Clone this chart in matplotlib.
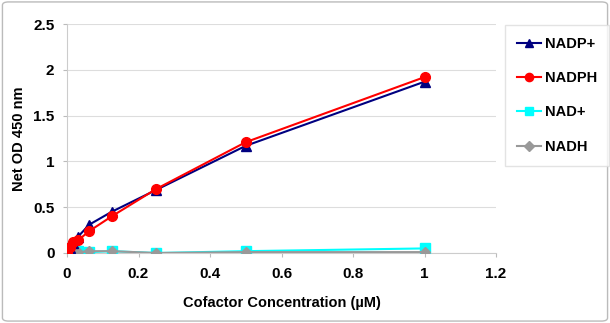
import numpy as np
import matplotlib.pyplot as plt
from matplotlib.patches import FancyBboxPatch

# cofactor concentration (uM), two-fold dilution series
conc = [0, 0.0078, 0.0156, 0.03125, 0.0625, 0.125, 0.25, 0.5, 1.0]

nadp_plus = [0.0, 0.06, 0.11, 0.18, 0.31, 0.45, 0.69, 1.17, 1.87]
nadph = [0.0, 0.07, 0.12, 0.14, 0.24, 0.40, 0.70, 1.21, 1.92]
nad_plus = [0.02, 0.02, 0.02, 0.02, 0.01, 0.02, 0.0, 0.02, 0.05]
nadh = [0.02, 0.02, 0.01, 0.01, 0.02, 0.02, 0.0, 0.01, 0.01]

xticks = [0, 0.2, 0.4, 0.6, 0.8, 1, 1.2]
xtick_labels = ['0', '0.2', '0.4', '0.6', '0.8', '1', '1.2']
yticks = [0, 0.5, 1, 1.5, 2, 2.5]
ytick_labels = ['0', '0.5', '1', '1.5', '2', '2.5']

plt.rcParams['font.family'] = ['Liberation Sans', 'DejaVu Sans']
plt.rcParams['font.weight'] = 'bold'

fig = plt.figure(figsize=(6.1, 3.23), dpi=100)
ax = fig.add_axes([67/610, 1 - 253/323, (496-67)/610, (253-24)/323])

ax.plot(conc, nadp_plus, color='#000080', marker='^', ms=7, lw=1.5, label='NADP+', zorder=4)
ax.plot(conc, nadph, color='#ff0000', marker='o', ms=7, lw=1.5, label='NADPH', zorder=5)
ax.plot(conc, nad_plus, color='#00ffff', marker='s', ms=6.5, lw=1.5, label='NAD+', zorder=3)
ax.plot(conc, nadh, color='#999999', marker='D', ms=5.5, lw=1.5, label='NADH', zorder=3)

ax.set_xlim(0, 1.2)
ax.set_ylim(0, 2.5)
ax.set_xticks(xticks)
ax.set_xticklabels(xtick_labels, fontweight='bold')
ax.set_yticks(yticks)
ax.set_yticklabels(ytick_labels, fontweight='bold')
ax.tick_params(labelsize=11, length=3, color='#bbbbbb')
ax.tick_params(axis='x', pad=7)
ax.tick_params(axis='y', pad=6)
ax.grid(axis='y', color='#dddddd', lw=0.8)
ax.set_axisbelow(True)
for s in ['top', 'right']:
    ax.spines[s].set_visible(False)
for s in ['left', 'bottom']:
    ax.spines[s].set_color('#cccccc')
ax.set_xlabel('Cofactor Concentration (\u00b5M)', fontsize=10.5, fontweight='bold', labelpad=11)
ax.set_ylabel('Net OD 450 nm', fontsize=10.5, fontweight='bold', labelpad=5)

leg = fig.legend(loc='upper left', bbox_to_anchor=(505/610, 1 - 25/323), frameon=True,
                 fontsize=10.5, handlelength=1.7, labelspacing=1.4, borderpad=0.8,
                 handletextpad=0.25, borderaxespad=0, fancybox=False, markerscale=0.85)
leg.get_frame().set_edgecolor('#dddddd')
for t in leg.get_texts():
    t.set_fontweight('bold')

border = FancyBboxPatch((0.004, 0.006), 0.992, 0.988, boxstyle='round,pad=0,rounding_size=0.01',
                        transform=fig.transFigure, fill=False, edgecolor='#bbbbbb', lw=1)
fig.patches.append(border)

fig.savefig('out.png', dpi=100)
